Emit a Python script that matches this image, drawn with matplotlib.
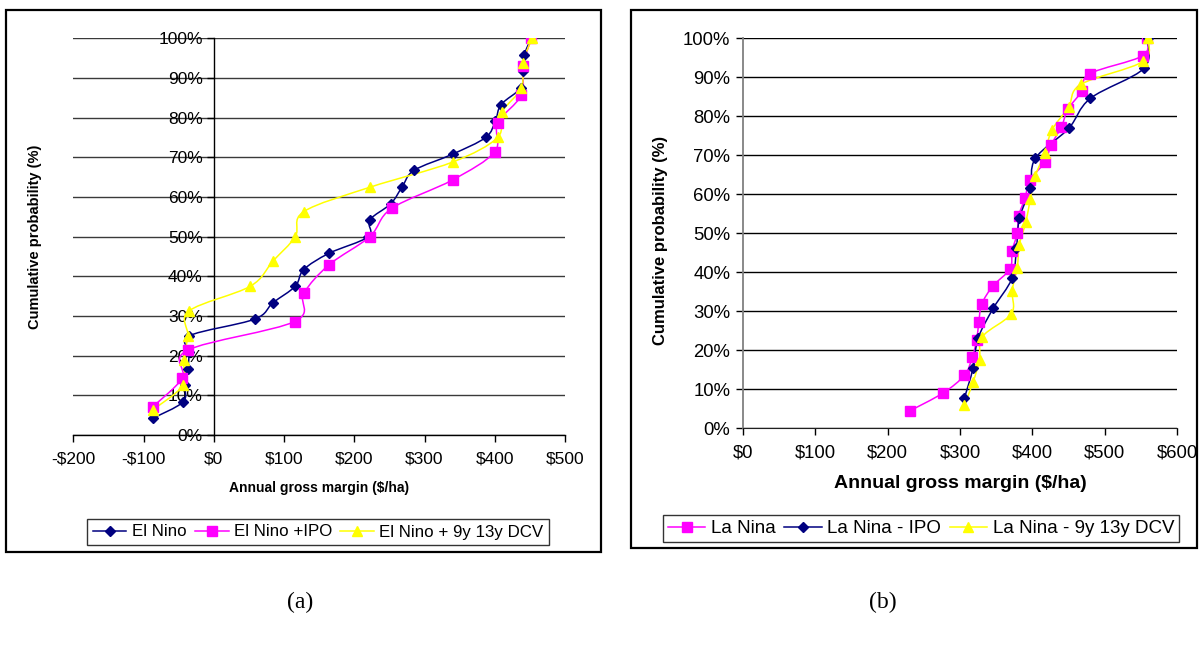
""" Cumulative probability of annual gross margin, El Nino / La Nina phases
"""
import numpy as np
import matplotlib
matplotlib.use('Agg')
import matplotlib.pyplot as plt
from matplotlib.path import Path
from matplotlib.patches import PathPatch, Rectangle
from matplotlib.lines import Line2D
from matplotlib.ticker import FuncFormatter

plt.rcParams['font.family'] = ['Liberation Sans', 'DejaVu Sans']

# ---- panel (a) data: gross margin ($/ha) vs cumulative probability (%)
el_nino_gm = [-87, -44, -41, -37, -35, -35, 58, 84, 116, 128, 164, 220,
              222, 252, 268, 285, 340, 387, 401, 409, 437, 440, 442, 452]
el_nino_p = [4.2, 8.3, 12.5, 16.7, 20.8, 25.0, 29.2, 33.3, 37.5, 41.7, 45.8, 50.0,
             54.2, 58.3, 62.5, 66.7, 70.8, 75.0, 79.2, 83.3, 87.5, 91.7, 95.8, 100]
el_ipo_gm = [-87, -45, -37, 115, 128, 164, 222, 253, 340, 400, 404, 438, 440, 452]
el_ipo_p = [7.1, 14.3, 21.4, 28.6, 35.7, 42.9, 50.0, 57.1, 64.3, 71.4, 78.6, 85.7, 92.9, 100]
el_dcv_gm = [-87, -44, -43, -37, -35, 52, 84, 116, 128, 223, 340, 404, 410, 438, 440, 453]
el_dcv_p = [6.3, 12.5, 18.8, 25.0, 31.3, 37.5, 43.8, 50.0, 56.3, 62.5, 68.8, 75.0,
            81.3, 87.5, 93.8, 100]

# ---- panel (b) data
la_nina_gm = [231, 277, 306, 317, 323, 326, 330, 345, 369, 372, 379, 381, 390, 396,
              417, 426, 440, 449, 468, 479, 552, 558]
la_nina_p = [4.5, 9.1, 13.6, 18.2, 22.7, 27.3, 31.8, 36.4, 40.9, 45.5, 50.0, 54.5,
             59.1, 63.6, 68.2, 72.7, 77.3, 81.8, 86.4, 90.9, 95.5, 100]
la_ipo_gm = [306, 318, 325, 346, 372, 378, 382, 397, 404, 450, 480, 554, 559]
la_ipo_p = [7.7, 15.4, 23.1, 30.8, 38.5, 46.2, 53.8, 61.5, 69.2, 76.9, 84.6, 92.3, 100]
la_dcv_gm = [306, 318, 327, 331, 371, 372, 379, 382, 391, 397, 404, 417, 427, 450,
             467, 553, 559]
la_dcv_p = [5.9, 11.8, 17.6, 23.5, 29.4, 35.3, 41.2, 47.1, 52.9, 58.8, 64.7, 70.6,
            76.5, 82.4, 88.2, 94.1, 100]

labels_a = ['El Nino', 'El Nino +IPO', 'El Nino + 9y 13y DCV']
labels_b = ['La Nina', 'La Nina - IPO', 'La Nina - 9y 13y DCV']

NAVY, MAG, YEL = '#000080', '#FF00FF', '#FFFF00'
W, H = 1202, 646


def smooth_line(ax, x, y, color):
    # excel style smoothed line: cubic bezier through every point
    p = np.column_stack([x, y]).astype(float)
    ext = np.vstack([p[0], p, p[-1]])
    verts, codes = [tuple(p[0])], [Path.MOVETO]
    for i in range(len(p) - 1):
        c1 = ext[i + 1] + (ext[i + 2] - ext[i]) / 6.0
        c2 = ext[i + 2] - (ext[i + 3] - ext[i + 1]) / 6.0
        verts += [tuple(c1), tuple(c2), tuple(p[i + 1])]
        codes += [Path.CURVE4] * 3
    ax.add_patch(PathPatch(Path(verts, codes), fill=False, ec=color, lw=1.1, zorder=3))


def series(ax, x, y, color, marker, ms):
    smooth_line(ax, x, y, color)
    ax.plot(x, y, ls='none', marker=marker, ms=ms, mfc=color, mec=color, zorder=4)


def pct(v, pos):
    return '%d%%' % v


fig = plt.figure(figsize=(W / 100, H / 100), dpi=100)

# frames round each chart
fig.add_artist(Rectangle((6 / W, 1 - 552 / H), 595 / W, 542 / H, transform=fig.transFigure,
                         fill=False, ec='black', lw=1.6))
fig.add_artist(Rectangle((631 / W, 1 - 548 / H), 566 / W, 538 / H, transform=fig.transFigure,
                         fill=False, ec='black', lw=1.6))

# ---------------- panel (a)
axa = fig.add_axes([73.3 / W, 1 - 435 / H, (565 - 73.3) / W, (435 - 38.3) / H])
axa.set_xlim(-200, 500)
axa.set_ylim(0, 100)
axa.set_xticks(np.arange(-200, 501, 100))
axa.set_yticks(np.arange(0, 101, 10))
axa.xaxis.set_major_formatter(FuncFormatter(lambda v, p: ('-$%d' % -v) if v < 0 else '$%d' % v))
axa.yaxis.set_major_formatter(FuncFormatter(pct))
axa.spines['left'].set_position(('data', 0))
axa.spines['top'].set_visible(False)
axa.spines['right'].set_visible(False)
for s in ['left', 'bottom']:
    axa.spines[s].set_color('black')
    axa.spines[s].set_linewidth(1.0)
axa.yaxis.grid(True, color='#3a3a3a', lw=1.0)
axa.set_axisbelow(True)
axa.tick_params(axis='both', direction='out', length=5, width=1, labelsize=12.5, pad=7)
axa.tick_params(axis='y', pad=3)

series(axa, el_nino_gm, el_nino_p, NAVY, 'D', 5.5)
series(axa, el_ipo_gm, el_ipo_p, MAG, 's', 6.5)
series(axa, el_dcv_gm, el_dcv_p, YEL, '^', 7.5)

fig.text(319 / W, 1 - 488 / H, 'Annual gross margin ($/ha)', ha='center', va='center',
         fontsize=10, fontweight='bold')
fig.text(35 / W, 1 - 237 / H, 'Cumulative probability (%)', ha='center', va='center',
         rotation=90, fontsize=10.5, fontweight='bold')

hand_a = [Line2D([], [], color=NAVY, marker='D', ms=5.5, lw=1.1),
          Line2D([], [], color=MAG, marker='s', ms=6.5, lw=1.1),
          Line2D([], [], color=YEL, marker='^', ms=7.5, lw=1.1)]
lga = fig.legend(hand_a, labels_a, loc='center', bbox_to_anchor=(318 / W, 1 - 532 / H),
                 ncol=3, fontsize=12.2, frameon=True, fancybox=False, edgecolor='black',
                 handlelength=2.0, handletextpad=0.3, columnspacing=0.5,
                 borderpad=0.3, borderaxespad=0)
lga.get_frame().set_linewidth(1.0)

# ---------------- panel (b)
axb = fig.add_axes([742.7 / W, 1 - 428.3 / H, (1177.3 - 742.7) / W, (428.3 - 38.3) / H])
axb.set_xlim(0, 600)
axb.set_ylim(0, 100)
axb.set_xticks(np.arange(0, 601, 100))
axb.set_yticks(np.arange(0, 101, 10))
axb.xaxis.set_major_formatter(FuncFormatter(lambda v, p: '$%d' % v))
axb.yaxis.set_major_formatter(FuncFormatter(pct))
axb.spines['top'].set_visible(False)
axb.spines['right'].set_visible(False)
axb.spines['left'].set_color('#808080')
axb.spines['left'].set_linewidth(1.3)
axb.spines['bottom'].set_color('#202020')
axb.yaxis.grid(True, color='black', lw=1.0)
axb.set_axisbelow(True)
axb.tick_params(axis='both', direction='out', length=5, width=1, labelsize=13.3, pad=7)
axb.tick_params(axis='y', pad=4)

series(axb, la_nina_gm, la_nina_p, MAG, 's', 6.5)
series(axb, la_ipo_gm, la_ipo_p, NAVY, 'D', 5.5)
series(axb, la_dcv_gm, la_dcv_p, YEL, '^', 7.5)

fig.text(960 / W, 1 - 483 / H, 'Annual gross margin ($/ha)', ha='center', va='center',
         fontsize=14, fontweight='bold')
fig.text(661 / W, 1 - 240 / H, 'Cumulative probability (%)', ha='center', va='center',
         rotation=90, fontsize=12, fontweight='bold')

hand_b = [Line2D([], [], color=MAG, marker='s', ms=6.5, lw=1.1),
          Line2D([], [], color=NAVY, marker='D', ms=5.5, lw=1.1),
          Line2D([], [], color=YEL, marker='^', ms=7.5, lw=1.1)]
lgb = fig.legend(hand_b, labels_b, loc='center', bbox_to_anchor=(921 / W, 1 - 528.5 / H),
                 ncol=3, fontsize=13.5, frameon=True, fancybox=False, edgecolor='black',
                 handlelength=2.0, handletextpad=0.3, columnspacing=0.45,
                 borderpad=0.25, borderaxespad=0)
lgb.get_frame().set_linewidth(1.0)

# captions
fig.text(300 / W, 1 - 602 / H, '(a)', ha='center', va='center', fontsize=17,
         family=['Liberation Serif', 'DejaVu Serif'])
fig.text(883 / W, 1 - 602 / H, '(b)', ha='center', va='center', fontsize=17,
         family=['Liberation Serif', 'DejaVu Serif'])

fig.savefig('out.png', dpi=100)
